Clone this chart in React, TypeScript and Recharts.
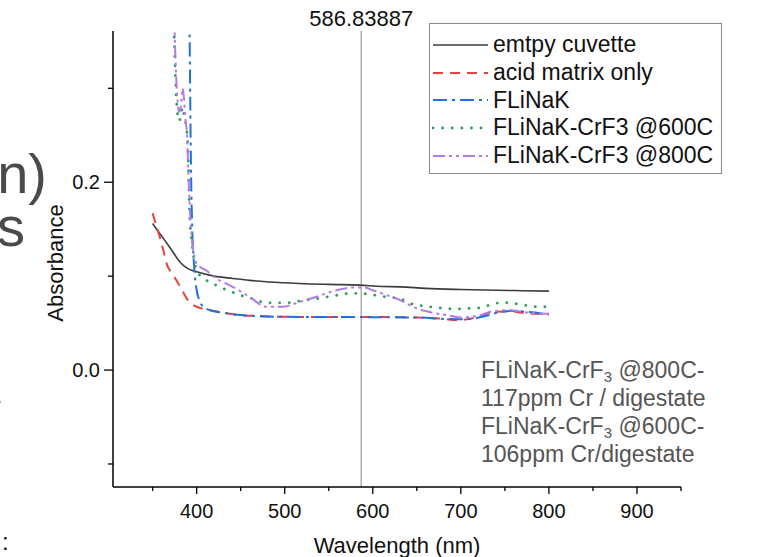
import React from "react";
import {
  LineChart,
  Line,
  XAxis,
  YAxis,
  ReferenceLine,
} from "recharts";

const FONT = "'Liberation Sans', Arial, sans-serif";

// wavelength (nm) / absorbance
const cuvetteNm = [350, 360, 370, 382, 390, 400, 420, 441, 460, 479, 500, 517, 550, 585, 610, 631, 660, 700, 740, 770, 800];
const cuvetteAbs = [0.156, 0.143, 0.13, 0.114, 0.108, 0.1046, 0.1, 0.0975, 0.0955, 0.094, 0.093, 0.0922, 0.0912, 0.0904, 0.089, 0.0886, 0.087, 0.0858, 0.085, 0.0845, 0.084];

const acidNm = [350, 354, 358, 362, 366, 371, 377, 384, 390, 395, 400, 408, 415, 430, 449, 470, 494, 550, 600, 650, 680, 695, 710, 725, 737, 755, 771, 785, 800];
const acidAbs = [0.167, 0.154, 0.142, 0.128, 0.113, 0.104, 0.0957, 0.084, 0.0745, 0.07, 0.0674, 0.065, 0.0638, 0.061, 0.0585, 0.0575, 0.0567, 0.0565, 0.0565, 0.056, 0.0545, 0.053, 0.0545, 0.058, 0.062, 0.0625, 0.061, 0.06, 0.0596];

const flinakNm = [390, 392, 393, 394, 395, 396.5, 398, 400, 403, 408, 415, 430, 450, 500, 550, 600, 650, 680, 700, 715, 730, 745, 760, 775, 790, 800];
const flinakAbs = [0.55, 0.36, 0.26, 0.19, 0.15, 0.12, 0.1, 0.085, 0.0745, 0.067, 0.0638, 0.061, 0.0585, 0.0567, 0.0565, 0.0563, 0.056, 0.0545, 0.054, 0.055, 0.058, 0.062, 0.063, 0.062, 0.0605, 0.059];

const cr600Nm = [371, 374, 376, 378, 380, 382, 384, 386, 388, 390, 391, 392, 394, 396, 400, 411, 422, 435, 449, 465, 479, 502, 520, 536, 555, 574, 590, 600, 615, 631, 646, 660, 676, 695, 709, 724, 735, 748, 760, 773, 786, 800];
const cr600Abs = [0.6, 0.38, 0.31, 0.275, 0.265, 0.27, 0.28, 0.27, 0.26, 0.24, 0.2, 0.167, 0.14, 0.124, 0.106, 0.0957, 0.0904, 0.085, 0.08, 0.0755, 0.0716, 0.0716, 0.074, 0.076, 0.079, 0.0816, 0.0815, 0.08, 0.078, 0.076, 0.07, 0.068, 0.0663, 0.065, 0.0656, 0.0667, 0.07, 0.072, 0.071, 0.069, 0.0674, 0.0674];

const cr800Nm = [371, 374, 376, 378, 380, 382, 384, 385.5, 387, 389, 391, 393, 395, 397, 400, 405, 411, 420, 441, 460, 479, 498, 515, 536, 555, 578, 590, 600, 615, 631, 650, 668, 684, 699, 710, 722, 737, 756, 775, 790, 800];
const cr800Abs = [0.6, 0.4, 0.33, 0.29, 0.275, 0.28, 0.3, 0.29, 0.27, 0.25, 0.2, 0.16, 0.135, 0.122, 0.113, 0.109, 0.106, 0.099, 0.0886, 0.078, 0.0674, 0.0674, 0.072, 0.078, 0.084, 0.088, 0.088, 0.085, 0.08, 0.0745, 0.0656, 0.061, 0.0585, 0.056, 0.0565, 0.0585, 0.0628, 0.0638, 0.0614, 0.0603, 0.06];

const xTicks = [350, 400, 450, 500, 550, 600, 650, 700, 750, 800, 850, 900, 950];
const yTicks = [-0.1, 0, 0.1, 0.2, 0.3];
const markerNm = 586.83887;

const toRows = (nm: number[], abs: number[]) => nm.map((x, i) => ({ x, y: abs[i] }));

const series = [
  { name: "emtpy cuvette", rows: toRows(cuvetteNm, cuvetteAbs), color: "#3c3c3c", dash: undefined, width: 1.6, cap: "butt" },
  { name: "acid matrix only", rows: toRows(acidNm, acidAbs), color: "#e8413f", dash: "10 7", width: 2, cap: "butt" },
  { name: "FLiNaK", rows: toRows(flinakNm, flinakAbs), color: "#2170e0", dash: "14 5 3 5", width: 2, cap: "butt" },
  { name: "FLiNaK-CrF3 @600C", rows: toRows(cr600Nm, cr600Abs), color: "#2e9e5b", dash: "0.1 9.5", width: 2.8, cap: "round" },
  { name: "FLiNaK-CrF3 @800C", rows: toRows(cr800Nm, cr800Abs), color: "#b27ce8", dash: "12 4 3 4 3 4", width: 2, cap: "butt" },
];

const YTick = (props: any) => {
  const { x, y, payload } = props;
  const v = payload.value;
  const major = Math.abs(Math.round(v * 10)) % 2 === 0;
  return (
    <g>
      <line x1={x - (major ? 9 : 5)} x2={x} y1={y} y2={y} stroke="#000" strokeWidth={1.3} />
      {major && (
        <text x={x - 13} y={y} dy={7} textAnchor="end" fontSize={20} fontFamily={FONT} fill="#111">
          {v.toFixed(1)}
        </text>
      )}
    </g>
  );
};

const XTick = (props: any) => {
  const { x, y, payload } = props;
  const v = payload.value;
  const major = v % 100 === 0;
  return (
    <g>
      <line x1={x} x2={x} y1={y} y2={y + (major ? 7 : 4)} stroke="#000" strokeWidth={1.3} />
      {major && (
        <text x={x} y={y + 31} textAnchor="middle" fontSize={20} fontFamily={FONT} fill="#111">
          {v}
        </text>
      )}
    </g>
  );
};

const YTitle = ({ viewBox }: any) => {
  const cx = viewBox.x + 55;
  const cy = viewBox.y + viewBox.height / 2 + 4;
  return (
    <text x={cx} y={cy} transform={`rotate(-90 ${cx} ${cy})`} textAnchor="middle" dominantBaseline="central" fontSize={22} fontFamily={FONT} fill="#111">
      Absorbance
    </text>
  );
};

const XTitle = ({ viewBox }: any) => (
  <text x={viewBox.x + viewBox.width / 2} y={viewBox.y + 66} textAnchor="middle" fontSize={22} fontFamily={FONT} fill="#111">
    Wavelength (nm)
  </text>
);

const Sub3 = () => (
  <span style={{ fontSize: 15, position: "relative", top: 4, lineHeight: 0 }}>3</span>
);

export default function App() {
  return (
    <div style={{ position: "absolute", left: 0, top: 0, width: 767, height: 557, background: "#fff", overflow: "hidden", fontFamily: FONT }}>
      <LineChart width={767} height={557} margin={{ top: 31, right: 86, bottom: 0, left: 0 }}>
        <XAxis
          type="number"
          dataKey="x"
          domain={[305, 950]}
          ticks={xTicks}
          allowDataOverflow
          height={70}
          stroke="#000"
          strokeWidth={1.5}
          tickSize={0}
          tickMargin={0}
          tickLine={false}
          tick={<XTick />}
          interval={0}
          label={<XTitle />}
        />
        <YAxis
          type="number"
          dataKey="y"
          domain={[-0.1245, 0.361]}
          ticks={yTicks}
          allowDataOverflow
          width={113}
          stroke="#000"
          strokeWidth={1.5}
          tickSize={0}
          tickMargin={0}
          tickLine={false}
          tick={<YTick />}
          interval={0}
          label={<YTitle />}
        />
        <ReferenceLine
          x={markerNm}
          stroke="#9a9a9a"
          strokeWidth={1.2}
          label={{ value: "586.83887", position: "top", offset: 5, fill: "#111", fontSize: 22, fontFamily: FONT }}
        />
        {series.map((s) => (
          <Line
            key={s.name}
            data={s.rows}
            dataKey="y"
            name={s.name}
            type="monotone"
            stroke={s.color}
            strokeWidth={s.width}
            strokeDasharray={s.dash}
            strokeLinecap={s.cap as any}
            dot={false}
            activeDot={false}
            isAnimationActive={false}
          />
        ))}
      </LineChart>

      {/* legend */}
      <div
        style={{
          position: "absolute",
          left: 429,
          top: 23,
          width: 293,
          height: 151,
          border: "1px solid #8a8a8a",
          background: "#fff",
          paddingTop: 7,
          boxSizing: "border-box",
        }}
      >
        {series.map((s) => (
          <div key={s.name} style={{ display: "flex", alignItems: "center", height: 27.7 }}>
            <svg width={60} height={10} style={{ marginLeft: 2 }}>
              <line x1={1} x2={56} y1={5} y2={5} stroke={s.color} strokeWidth={s.width} strokeDasharray={s.dash} strokeLinecap={s.cap as any} />
            </svg>
            <span style={{ fontSize: 23, color: "#111", marginLeft: 1, whiteSpace: "nowrap" }}>{s.name}</span>
          </div>
        ))}
      </div>

      {/* annotation */}
      <div style={{ position: "absolute", left: 481, top: 356, fontSize: 23, color: "#555", lineHeight: "28px", whiteSpace: "nowrap" }}>
        <div>FLiNaK-CrF<Sub3 /> @800C-</div>
        <div>117ppm Cr / digestate</div>
        <div>FLiNaK-CrF<Sub3 /> @600C-</div>
        <div>106ppm Cr/digestate</div>
      </div>

      {/* clipped text from the neighbouring panel */}
      <div style={{ position: "absolute", left: -34, top: 144, fontSize: 56, color: "#4a4a4a", lineHeight: "60px" }}>en)</div>
      <div style={{ position: "absolute", left: -3, top: 197, fontSize: 56, color: "#4a4a4a", lineHeight: "60px" }}>s</div>
      <div style={{ position: "absolute", left: -3, top: 384, fontSize: 20, color: "#999", lineHeight: "24px" }}>.</div>
      <div style={{ position: "absolute", left: 2, top: 529, fontSize: 24, color: "#111", lineHeight: "26px" }}>:</div>
    </div>
  );
}
